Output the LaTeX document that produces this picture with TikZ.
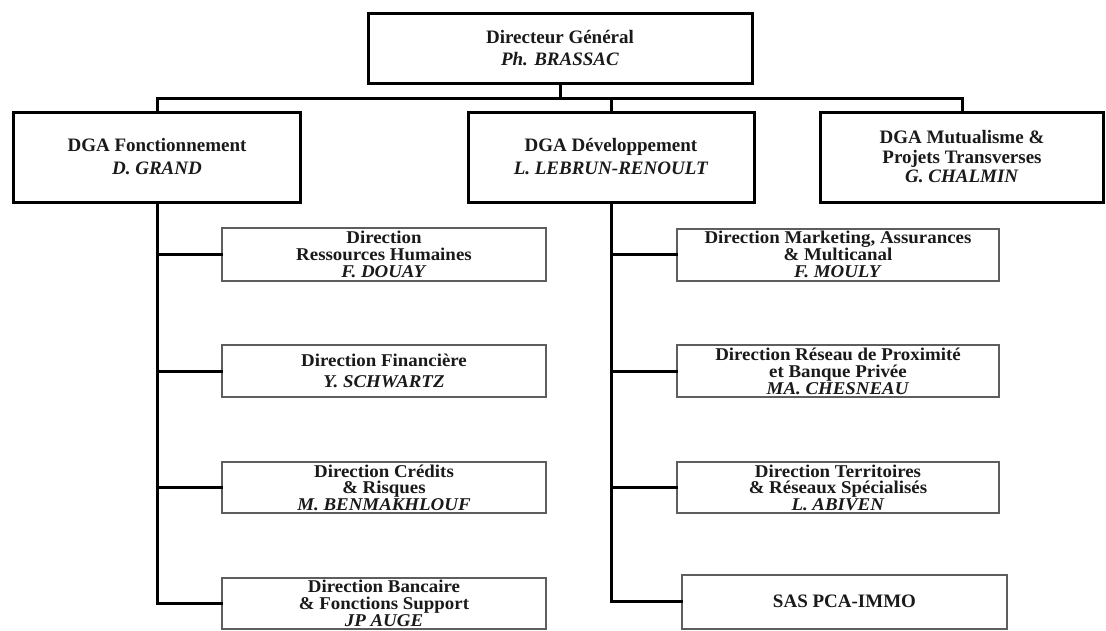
\documentclass[tikz,border=0pt]{standalone}
\usepackage{fontspec}
\setmainfont{Liberation Serif}
\newfontfamily\subserif{Liberation Serif}[FakeStretch=1.05]
\definecolor{txt}{HTML}{1A1A1A}
\definecolor{subline}{HTML}{5E5E5E}
\newcommand{\tightls}{\lineskiplimit=-30pt\relax}
\newcommand{\bfs}[1]{\fontsize{19}{#1}\selectfont\bfseries\tightls}
\newcommand{\sbfs}[1]{\subserif\fontsize{18}{#1}\selectfont\bfseries\tightls}
\begin{document}
\begin{tikzpicture}[x=1pt,y=-1pt,
  mainbox/.style={draw=black,line width=3pt,rectangle,inner sep=0pt,align=center,text=txt,
    font={\bfs{23}}},
  subbox/.style={draw=subline,line width=2pt,rectangle,inner sep=0pt,align=center,text=txt,
    minimum width=324pt,
    font={\sbfs{17}}},
  conn/.style={draw=black,line width=3pt,line cap=rect}]
\useasboundingbox (0,0) rectangle (1106,630);
\fill[white] (0,0) rectangle (1106,630);

% top level
\node[mainbox,minimum width=384pt,minimum height=70pt,font={\bfs{22}}] (dg) at (560,48)
  {Directeur Général\\\textit{Ph. BRASSAC}};
\node[mainbox,minimum width=287pt,minimum height=90pt] (fonct) at (157,157)
  {DGA Fonctionnement\\\textit{D. GRAND}};
\node[mainbox,minimum width=286pt,minimum height=90pt] (dev) at (611,157)
  {DGA Développement\\\textit{L. LEBRUN-RENOULT}};
\node[mainbox,minimum width=283pt,minimum height=90pt,font={\bfs{19.5}}] (mut) at (962,157)
  {DGA Mutualisme \&\\Projets Transverses\\\textit{G. CHALMIN}};

% left column
\node[subbox,minimum height=53pt] (rh) at (384,254.5)
  {Direction\\Ressources Humaines\\\textit{F. DOUAY}};
\node[subbox,minimum height=52pt,font={\sbfs{21}}] (fin) at (384,371)
  {Direction Financière\\\textit{Y. SCHWARTZ}};
\node[subbox,minimum height=51pt,font={\sbfs{16.5}}] (cred) at (384,487.5)
  {Direction Crédits\\\& Risques\\\textit{M. BENMAKHLOUF}};
\node[subbox,minimum height=51pt] (banc) at (384,603)
  {Direction Bancaire\\\& Fonctions Support\\\textit{JP AUGE}};

% right column
\node[subbox,minimum width=322pt,minimum height=52pt] (mkt) at (838,254.5)
  {Direction Marketing, Assurances\\\& Multicanal\\\textit{F. MOULY}};
\node[subbox,minimum width=322pt,minimum height=52pt] (res) at (838,371)
  {Direction Réseau de Proximité\\et Banque Privée\\\textit{MA. CHESNEAU}};
\node[subbox,minimum width=322pt,minimum height=51pt,font={\sbfs{16.5}}] (ter) at (838,487.5)
  {Direction Territoires\\\& Réseaux Spécialisés\\\textit{L. ABIVEN}};
\node[subbox,minimum width=325pt,minimum height=54pt,font={\bfs{19}}] (sas) at (844.5,601.5)
  {SAS PCA-IMMO};

% bus
\coordinate (bus) at (0,98);
\draw[conn] (dg.south) -- (dg.south |- bus);
\draw[conn] (fonct.north) -- (fonct.north |- bus) -- (mut.north |- bus) -- (mut.north);
\draw[conn] (dev.north) -- (dev.north |- bus);

% left trunk
\draw[conn] (fonct.south) |- (banc.west);
\draw[conn] (fonct.south) |- (rh.west);
\draw[conn] (fonct.south) |- (fin.west);
\draw[conn] (fonct.south) |- (cred.west);

% right trunk
\draw[conn] (dev.south) |- (sas.west);
\draw[conn] (dev.south) |- (mkt.west);
\draw[conn] (dev.south) |- (res.west);
\draw[conn] (dev.south) |- (ter.west);
\end{tikzpicture}
\end{document}
